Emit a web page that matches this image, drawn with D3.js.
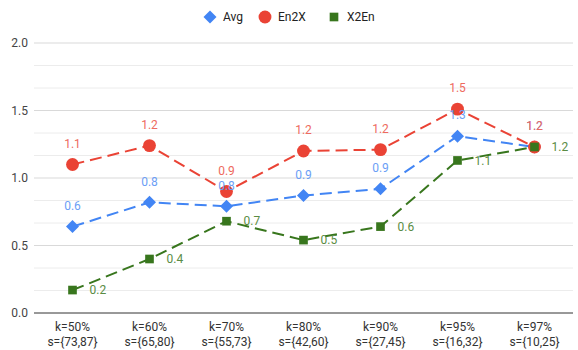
<!DOCTYPE html>
<html>
<head>
<meta charset="utf-8">
<script src="https://cdn.jsdelivr.net/npm/d3@7"></script>
<style>
  body { margin: 0; background: #fff; }
  svg text { font-family: Roboto, Arial, sans-serif; }
</style>
</head>
<body>
<svg id="chart"></svg>
<script>
const kLabels = ["k=50%", "k=60%", "k=70%", "k=80%", "k=90%", "k=95%", "k=97%"];
const sLabels = ["s={73,87}", "s={65,80}", "s={55,73}", "s={42,60}", "s={27,45}", "s={16,32}", "s={10,25}"];
const avg = [0.64, 0.82, 0.79, 0.87, 0.92, 1.31, 1.23];
const en2x = [1.10, 1.24, 0.90, 1.20, 1.21, 1.51, 1.23];
const x2en = [0.17, 0.40, 0.68, 0.54, 0.64, 1.13, 1.23];
const yTicks = [0, 0.5, 1.0, 1.5, 2.0];

const W = 578, H = 350;
const margin = { top: 43, right: 5, bottom: 37, left: 34 };
const w = W - margin.left - margin.right;
const h = H - margin.top - margin.bottom;

// diamond = square turned 45deg
const series = [
  { name: "Avg", values: avg, color: "#4285f4", label: "#6b9ef6", shape: d3.symbolSquare, size: 85, rot: 45, pos: "above" },
  { name: "En2X", values: en2x, color: "#ea4335", label: "#ee6a5e", shape: d3.symbolCircle, size: 130, rot: 0, pos: "above" },
  { name: "X2En", values: x2en, color: "#38761d", label: "#5a8c44", shape: d3.symbolSquare, size: 75, rot: 0, pos: "right" }
];

const svg = d3.select("#chart").attr("width", W).attr("height", H);
const g = svg.append("g").attr("transform", `translate(${margin.left},${margin.top})`);

const x = d3.scaleBand().domain(kLabels).range([0, w]);
const y = d3.scaleLinear().domain([0, 2]).range([h, 0]);
const cx = i => x(kLabels[i]) + x.bandwidth() / 2;

// minor + major gridlines
const grid = d3.range(1, 13).map(i => i * 2 / 12);
g.selectAll("line.grid")
  .data(grid)
  .join("line")
  .attr("x1", 0).attr("x2", w)
  .attr("y1", d => y(d)).attr("y2", d => y(d))
  .attr("stroke", (d, i) => (i + 1) % 3 === 0 ? "#d9d9d9" : "#ececec")
  .attr("stroke-width", 1);

g.append("line")
  .attr("x1", 0).attr("x2", w)
  .attr("y1", y(0)).attr("y2", y(0))
  .attr("stroke", "#333").attr("stroke-width", 1);

// y tick labels
g.append("g").selectAll("text")
  .data(yTicks)
  .join("text")
  .attr("x", -6)
  .attr("y", d => y(d))
  .attr("dy", "0.35em")
  .attr("text-anchor", "end")
  .attr("font-size", 12)
  .attr("fill", "#444")
  .text(d => d.toFixed(1));

// x tick labels (two lines)
const xl = g.append("g").selectAll("text")
  .data(kLabels)
  .join("text")
  .attr("x", (d, i) => cx(i))
  .attr("y", h + 18)
  .attr("text-anchor", "middle")
  .attr("font-size", 12)
  .attr("fill", "#333");
xl.append("tspan").text(d => d);
xl.append("tspan")
  .attr("x", (d, i) => cx(i))
  .attr("dy", 15)
  .text((d, i) => sLabels[i]);

const line = d3.line()
  .x((d, i) => cx(i))
  .y(d => y(d));

series.forEach(s => {
  g.append("path")
    .datum(s.values)
    .attr("fill", "none")
    .attr("stroke", s.color)
    .attr("stroke-width", 2)
    .attr("stroke-dasharray", "12,6")
    .attr("d", line);
});

series.forEach(s => {
  g.append("g").selectAll("path")
    .data(s.values)
    .join("path")
    .attr("transform", (d, i) => `translate(${cx(i)},${y(d)}) rotate(${s.rot})`)
    .attr("d", d3.symbol().type(s.shape).size(s.size))
    .attr("fill", s.color);
});

series.forEach(s => {
  g.append("g").selectAll("text")
    .data(s.values)
    .join("text")
    .attr("x", (d, i) => cx(i) + (s.pos === "right" ? 17 : 0))
    .attr("y", d => y(d) + (s.pos === "right" ? 0 : -21))
    .attr("dy", "0.35em")
    .attr("text-anchor", s.pos === "right" ? "start" : "middle")
    .attr("font-size", 12)
    .attr("fill", s.label)
    .text(d => d.toFixed(1));
});

// legend
const legendX = [210, 265, 334];
const lg = svg.append("g");
series.forEach((s, i) => {
  lg.append("path")
    .attr("transform", `translate(${legendX[i]},17) rotate(${s.rot})`)
    .attr("d", d3.symbol().type(s.shape).size(s.size))
    .attr("fill", s.color);
  lg.append("text")
    .attr("x", legendX[i] + 13)
    .attr("y", 17)
    .attr("dy", "0.35em")
    .attr("font-size", 12)
    .attr("fill", "#222")
    .text(s.name);
});
</script>
</body>
</html>
